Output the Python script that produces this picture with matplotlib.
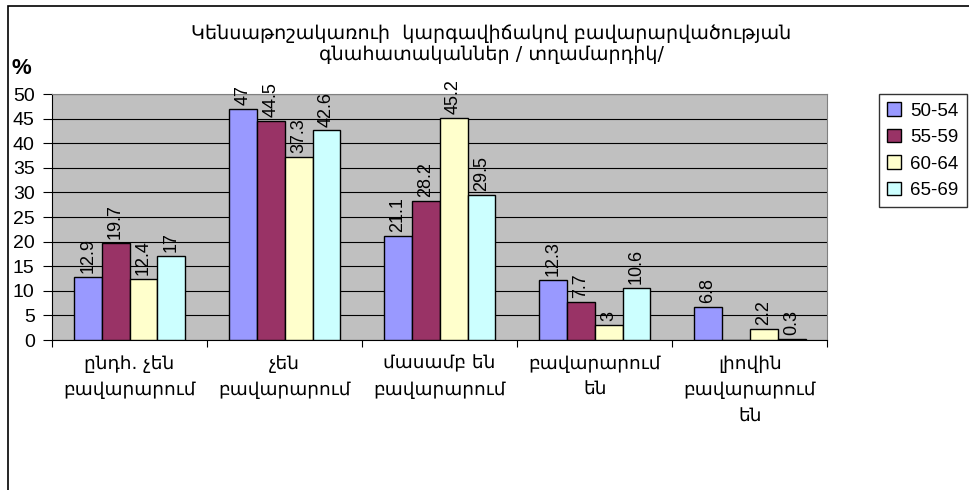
import matplotlib.pyplot as plt
import numpy as np
from matplotlib.patches import Rectangle

# data
categories = ['ընդհ. չեն\nբավարարում', 'չեն\nբավարարում', 'մասամբ են\nբավարարում',
              'բավարարում\nեն', 'լիովին\nբավարարում\nեն']
groups = ['50-54', '55-59', '60-64', '65-69']
v_50_54 = [12.9, 47, 21.1, 12.3, 6.8]
v_55_59 = [19.7, 44.5, 28.2, 7.7, None]
v_60_64 = [12.4, 37.3, 45.2, 3, 2.2]
v_65_69 = [17, 42.6, 29.5, 10.6, 0.3]
series = [v_50_54, v_55_59, v_60_64, v_65_69]
colors = ['#9999FF', '#993366', '#FFFFCC', '#CCFFFF']

fig = plt.figure(figsize=(9.69, 4.9), dpi=100)
ax = fig.add_axes([0.0537, 0.306, 0.8, 0.502])
ax.set_facecolor('#C0C0C0')

# outer frame
fig.patches.append(Rectangle((8/969, -0.01), 1.0, 1 - 6/490 + 0.01, transform=fig.transFigure,
                             fill=False, edgecolor='black', linewidth=1.2))

x = np.arange(len(categories))
w = 0.18
for i, (vals, c, g) in enumerate(zip(series, colors, groups)):
    xs = x + (i - 1.5) * w
    hs = [v if v is not None else 0 for v in vals]
    ax.bar(xs, hs, width=w, color=c, edgecolor='black', linewidth=1, label=g, zorder=3)
    for xi, v in zip(xs, vals):
        if v is None:
            continue
        ax.text(xi, v + 0.8, f'{v:g}', rotation=90, ha='center', va='bottom',
                fontsize=13, family='Liberation Sans', zorder=4, clip_on=False)

ax.set_xlim(-0.5, len(categories) - 0.5)
ax.set_ylim(0, 50)
ax.set_yticks(range(0, 51, 5))
ax.yaxis.grid(True, color='black', linewidth=0.8, zorder=0)
ax.set_axisbelow(True)
ax.set_xticks(np.arange(-0.5, len(categories), 1))
ax.set_xticklabels([])
ax.tick_params(axis='x', length=5, direction='out')
ax.tick_params(axis='y', length=6.5, direction='out', labelsize=14, pad=6)
for lab in ax.get_yticklabels():
    lab.set_family('Liberation Sans')
for xi, c in zip(x, categories):
    ax.text(xi, -3.0, c, ha='center', va='top', fontsize=13.3, family='DejaVu Sans',
            linespacing=1.6, transform=ax.transData)
for s in ['top', 'right']:
    ax.spines[s].set_color('#808080')
ax.spines['left'].set_color('black')
ax.spines['bottom'].set_color('black')

fig.text(491/969, 1 - 44/490, 'Կենսաթոշակառուի  կարգավիճակով բավարարվածության\nգնահատականներ / տղամարդիկ/',
         ha='center', va='center', fontsize=13.8, family='DejaVu Sans', linespacing=1.15)
fig.text(11/969, 1 - 68/490, '%', ha='left', va='center', fontsize=16, fontweight='bold',
         family='Liberation Sans')

leg = fig.legend(loc='upper left', bbox_to_anchor=(879/969, 1 - 94/490), frameon=True,
                 fancybox=False, edgecolor='black', prop={'family': 'Liberation Sans', 'size': 13.5},
                 handlelength=0.7, handleheight=0.7, labelspacing=0.5, borderaxespad=0,
                 handletextpad=0.5, borderpad=0.45)
leg.get_frame().set_linewidth(1)

plt.savefig('out.png', dpi=100)
